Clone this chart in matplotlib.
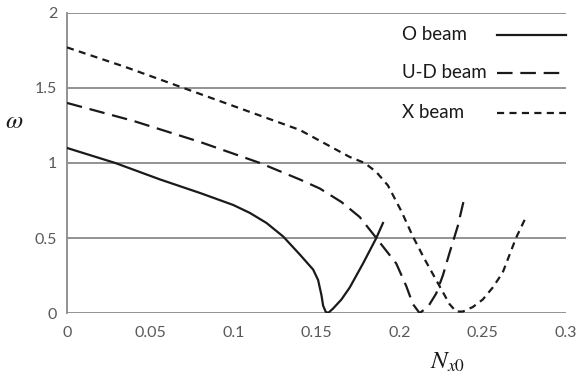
import matplotlib
matplotlib.use("Agg")
import matplotlib.pyplot as plt
from matplotlib.lines import Line2D

# ---- data ----
o_x = [0.0, 0.029, 0.056, 0.08, 0.10, 0.11, 0.12, 0.13, 0.14, 0.148, 0.151, 0.153, 0.154, 0.1555, 0.157, 0.160, 0.165, 0.170, 0.178, 0.186, 0.190]
o_y = [1.10, 1.00, 0.89, 0.80, 0.72, 0.667, 0.60, 0.51, 0.39, 0.29, 0.22, 0.12, 0.05, 0.01, 0.0, 0.03, 0.09, 0.17, 0.33, 0.50, 0.60]

ud_x = [0.0, 0.04, 0.08, 0.116, 0.140, 0.152, 0.165, 0.176, 0.186, 0.198, 0.204, 0.208, 0.212, 0.217, 0.222, 0.226, 0.230, 0.235, 0.239]
ud_y = [1.40, 1.28, 1.14, 1.00, 0.89, 0.83, 0.74, 0.64, 0.50, 0.33, 0.18, 0.06, 0.0, 0.04, 0.13, 0.25, 0.40, 0.58, 0.77]

x_x = [0.0, 0.035, 0.070, 0.11, 0.140, 0.160, 0.170, 0.179, 0.186, 0.193, 0.201, 0.208, 0.215, 0.222, 0.230, 0.234, 0.238, 0.244, 0.250, 0.256, 0.262, 0.270, 0.276]
x_y = [1.77, 1.64, 1.50, 1.34, 1.22, 1.10, 1.04, 1.00, 0.94, 0.85, 0.68, 0.51, 0.36, 0.22, 0.06, 0.01, 0.01, 0.04, 0.09, 0.17, 0.27, 0.50, 0.64]

labels = ["O beam", "U-D beam", "X beam"]
x_ticks = [0, 0.05, 0.1, 0.15, 0.2, 0.25, 0.3]
x_tick_labels = ["0", "0.05", "0.1", "0.15", "0.2", "0.25", "0.3"]
y_ticks = [0, 0.5, 1, 1.5, 2]
y_tick_labels = ["0", "0.5", "1", "1.5", "2"]

plt.rcParams['font.family'] = ['Lato', 'DejaVu Sans']
plt.rcParams['mathtext.fontset'] = 'stix'

fig = plt.figure(figsize=(5.81, 3.79), dpi=100)
ax = fig.add_axes([0.1153, 0.174, 0.974 - 0.1153, 0.966 - 0.174])

grid_c = '#8a8a8a'
for yv in y_ticks:
    ax.axhline(yv, color=grid_c, lw=1.3, zorder=1)

lc = '#1a1a1a'
styles = ['-', (0, (7, 3.5)), (0, (3.2, 2.4))]
series = [(o_x, o_y), (ud_x, ud_y), (x_x, x_y)]
for (xs, ys), ls, lab in zip(series, styles, labels):
    ax.plot(xs, ys, color=lc, lw=1.6, ls=ls, label=lab, zorder=3)

ax.set_xlim(0, 0.3)
ax.set_ylim(0, 2)
ax.set_xticks(x_ticks)
ax.set_xticklabels(x_tick_labels)
ax.set_yticks(y_ticks)
ax.set_yticklabels(y_tick_labels)
ax.tick_params(length=0, labelsize=11.5, colors='#595959')
ax.tick_params(axis='x', pad=9)
ax.tick_params(axis='y', pad=7)

for s in ['top', 'right', 'bottom']:
    ax.spines[s].set_visible(False)
ax.spines['left'].set_color(grid_c)
ax.spines['left'].set_linewidth(1.3)

ax.set_xlabel(r'$N_{x0}$', fontsize=18, color='#1a1a1a', va='center')
ax.xaxis.set_label_coords(0.762, -0.163)
ax.set_ylabel(r'$\omega$', fontsize=18, color='#1a1a1a', rotation=0, va='center')
ax.yaxis.set_label_coords(-0.105, 0.643)

# legend drawn as text + line samples, text left-aligned like the reference
leg_y = [0.927, 0.800, 0.667]
for lab, ls, yy in zip(labels, styles, leg_y):
    ax.text(0.671, yy, lab, transform=ax.transAxes, fontsize=13.5,
            color='#1a1a1a', va='center', ha='left')
    ax.add_line(Line2D([0.862, 1.0], [yy, yy], transform=ax.transAxes,
                       color=lc, lw=1.6, ls=ls, clip_on=False))

fig.savefig('out.png', dpi=100)
